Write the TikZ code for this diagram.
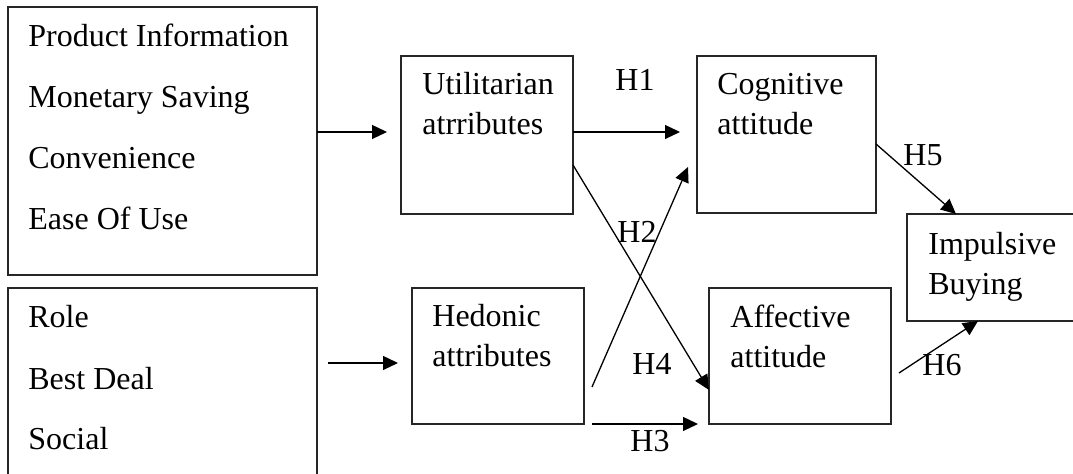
\documentclass[tikz,border=0pt]{standalone}
\usepackage{fontspec}
\setmainfont{Liberation Serif}
\usetikzlibrary{arrows.meta}
\begin{document}
\begin{tikzpicture}[x=0.5pt,y=-0.5pt,
  box/.style={draw=black!85, line width=0.9pt, anchor=north west, inner sep=0pt, outer sep=0pt},
  txt/.style={anchor=base west, inner sep=0pt, font=\fontsize{16}{19}\selectfont},
  arr/.style={draw=black, line width=0.65pt, -{Triangle[length=7.5pt,width=7pt]}},
  ln/.style={draw=black, line width=0.65pt}]
\clip (0,0) rectangle (1073,474);
\fill[white] (0,0) rectangle (1073,474);
% boxes
\node[box, minimum width=154.5pt, minimum height=134pt] (b1) at (8,7) {};
\node[box, minimum width=154.5pt, minimum height=101pt] (b2) at (8,288) {};
\node[box, minimum width=86pt, minimum height=79pt] (util) at (401,56) {};
\node[box, minimum width=89.5pt, minimum height=78.5pt] (cog) at (697,56) {};
\node[box, minimum width=86pt, minimum height=68pt] (hed) at (412,288) {};
\node[box, minimum width=91pt, minimum height=68pt] (aff) at (709,288) {};
\node[box, minimum width=86.5pt, minimum height=53.5pt] (imp) at (907,214) {};
% texts
\node[txt] (t1) at (28,47) {Product Information};
\node[txt] (t2) at (28,108) {Monetary Saving};
\node[txt] (t3) at (28,169) {Convenience};
\node[txt] (t4) at (28,230) {Ease Of Use};
\node[txt] (t5) at (28,328) {Role};
\node[txt] (t6) at (28,390) {Best Deal};
\node[txt] (t7) at (28,450) {Social};
\node[txt] (u1) at (422,95) {Utilitarian};
\node[txt] (u2) at (422,135) {atrributes};
\node[txt] (c1) at (717,95) {Cognitive};
\node[txt] (c2) at (717,135) {attitude};
\node[txt] (h1) at (432,327) {Hedonic};
\node[txt] (h2) at (432,367) {attributes};
\node[txt] (a1) at (730,328) {Affective};
\node[txt] (a2) at (730,368) {attitude};
\node[txt] (i1) at (928,255) {Impulsive};
\node[txt] (i2) at (928,295) {Buying};
% labels
\node[txt] (H1) at (615,91) {H1};
\node[txt] (H2) at (617,243) {H2};
\node[txt] (H3) at (630,452) {H3};
\node[txt] (H4) at (632,375) {H4};
\node[txt] (H5) at (903,166) {H5};
\node[txt] (H6) at (922,376) {H6};
% connector end points
\coordinate (p1) at (387,132);
\coordinate (p2s) at (328,363);
\coordinate (p2e) at (398,363);
\coordinate (p3) at (680,132);
\coordinate (p4s) at (0,165);
\coordinate (p4e) at (0,390);
\coordinate (p5s) at (592,387);
\coordinate (p5e) at (688,167);
\coordinate (p6s) at (592,424);
\coordinate (p6e) at (698,424);
\coordinate (p7s) at (0,144);
\coordinate (p7e) at (956,0);
\coordinate (p8s) at (899,373);
\coordinate (p8e) at (978,0);
% connectors
\draw[arr] (b1.east |- p1) -- (p1);
\draw[arr] (p2s) -- (p2e);
\draw[arr] (util.east |- p3) -- (p3);
\draw[arr] (util.east |- p4s) -- (aff.west |- p4e);
\draw[arr] (p5s) -- (p5e);
\draw[arr] (p6s) -- (p6e);
\draw[arr] (cog.east |- p7s) -- (p7e |- imp.north);
\draw[arr] (p8s) -- (p8e |- imp.south);
\end{tikzpicture}
\end{document}
